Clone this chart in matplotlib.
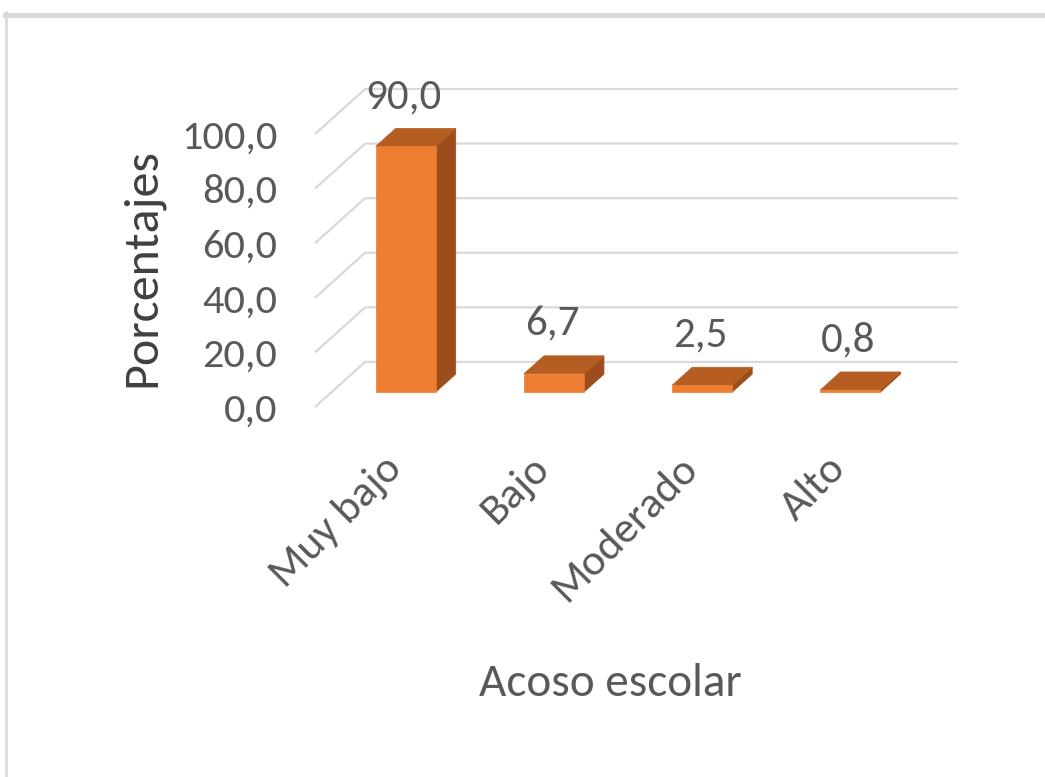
import matplotlib
matplotlib.use("Agg")
import matplotlib.pyplot as plt
from matplotlib.patches import Polygon
from matplotlib.lines import Line2D

# data
categories = ["Muy bajo", "Bajo", "Moderado", "Alto"]
percentages = [90.0, 6.7, 2.5, 0.8]
y_ticks = [0, 20, 40, 60, 80, 100]
y_ticklabels = ["0,0", "20,0", "40,0", "60,0", "80,0", "100,0"]
bar_labels = ["90,0", "6,7", "2,5", "0,8"]
x_title = "Acoso escolar"
y_title = "Porcentajes"

# oblique "3D" look (Excel style): offset of the back wall in data units
DEPTH_X = 0.338
DEPTH_Y = 16.5
BAR_D0, BAR_D1 = 0.33, 0.73   # bar front/back as fraction of the floor depth
BAR_W = 0.405

FRONT = "#ED7D31"
TOP = "#B65D21"
SIDE = "#9B4E1C"
GRID = "#D9D9D9"
TXT = "#595959"

FONT = ["Carlito", "DejaVu Sans"]

W, H = 1045, 777
fig = plt.figure(figsize=(W / 100, H / 100), dpi=100)
fig.patch.set_facecolor("white")

# light outer frame (only top and left visible in the reference)
fig.add_artist(Line2D([5 / W, 1], [1 - 14.5 / H] * 2, color=GRID, lw=3.6,
                      transform=fig.transFigure))
fig.add_artist(Line2D([6 / W] * 2, [0, 1 - 12 / H], color=GRID, lw=1.8,
                      transform=fig.transFigure))

ax = fig.add_axes([315 / W, (H - 407) / H, 593 / W, 273 / H])
ax.set_xlim(-0.5, len(categories) - 0.5)
ax.set_ylim(0, 100)
ax.patch.set_visible(False)
for s in ax.spines.values():
    s.set_visible(False)
ax.set_xticks([])
ax.set_yticks(y_ticks)
ax.set_yticklabels(y_ticklabels, family=FONT, fontsize=30.5, color=TXT)
ax.tick_params(axis="y", length=0, pad=27)

# gridlines: slanted on the left floor edge, then along the back wall
x0, x1 = -0.5, len(categories) - 0.5
for v in y_ticks:
    ax.plot([x0, x0 + DEPTH_X, x1 + DEPTH_X], [v, v + DEPTH_Y, v + DEPTH_Y],
            color=GRID, lw=1.6, clip_on=False, zorder=1, solid_capstyle="butt")

# bars
for i, v in enumerate(percentages):
    fx = i + BAR_D0 * DEPTH_X
    fy = BAR_D0 * DEPTH_Y
    dx = (BAR_D1 - BAR_D0) * DEPTH_X
    dy = (BAR_D1 - BAR_D0) * DEPTH_Y
    l, r = fx - BAR_W / 2, fx + BAR_W / 2
    b, t = fy, fy + v
    front = [(l, b), (r, b), (r, t), (l, t)]
    top = [(l, t), (r, t), (r + dx, t + dy), (l + dx, t + dy)]
    side = [(r, b), (r + dx, b + dy), (r + dx, t + dy), (r, t)]
    for pts, c in [(side, SIDE), (top, TOP), (front, FRONT)]:
        ax.add_patch(Polygon(pts, closed=True, facecolor=c, edgecolor=c, lw=0.5,
                             clip_on=False, zorder=3))
    ax.annotate(bar_labels[i], xy=(fx, t + dy), xytext=(-1.5, 23),
                textcoords="offset points", ha="center", va="center",
                family=FONT, fontsize=31, color=TXT, annotation_clip=False)

# category labels, rotated 45 degrees
for i, name in enumerate(categories):
    ax.annotate(name, xy=(i, 0), xytext=(4.3, -39.5), textcoords="offset points",
                rotation=45, rotation_mode="anchor", ha="right", va="center",
                family=FONT, fontsize=31.5, color=TXT, annotation_clip=False)

# axis titles
fig.text(610 / W, (H - 696) / H, x_title, ha="center", va="baseline",
         family=FONT, fontsize=34, color=TXT)
fig.text(142 / W, (H - 268) / H, y_title, ha="center", va="center", rotation=90,
         family=FONT, fontsize=36, color="#404040")

fig.savefig("out.png", dpi=100)
